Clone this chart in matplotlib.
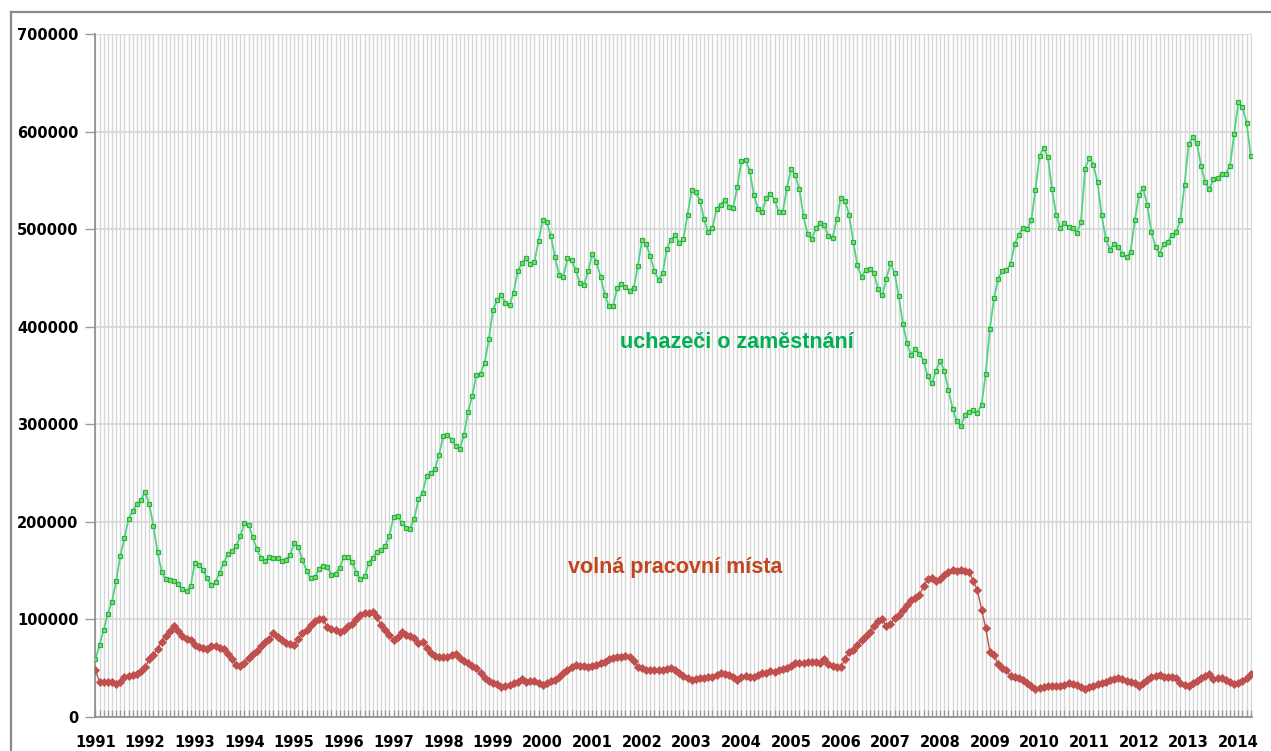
import numpy as np
import matplotlib.pyplot as plt
from matplotlib.lines import Line2D

W, H = 1271, 751

# --- Data: monthly values, Jan 1991 .. Apr 2014 ---
years = list(range(1991, 2015))

uchazeci = [
    59000, 74000, 89000, 106000, 118000, 139000, 165000, 183000, 203000, 211000, 218000, 222000,
    231000, 218000, 196000, 169000, 149000, 141000, 140000, 139000, 136000, 131000, 129000, 134000,
    158000, 156000, 151000, 142000, 135000, 138000, 148000, 158000, 167000, 170000, 175000, 185000,
    199000, 197000, 184000, 172000, 163000, 160000, 164000, 163000, 163000, 160000, 161000, 166000,
    178000, 174000, 161000, 150000, 142000, 143000, 152000, 155000, 154000, 146000, 147000, 153000,
    164000, 164000, 159000, 148000, 141000, 144000, 158000, 163000, 169000, 171000, 175000, 186000,
    205000, 206000, 199000, 194000, 193000, 203000, 223000, 230000, 247000, 250000, 254000, 269000,
    288000, 289000, 284000, 278000, 275000, 289000, 313000, 329000, 351000, 352000, 363000, 387000,
    417000, 427000, 433000, 424000, 422000, 435000, 457000, 465000, 470000, 464000, 466000, 488000,
    509000, 507000, 493000, 471000, 453000, 451000, 470000, 468000, 458000, 445000, 443000, 457000,
    475000, 466000, 451000, 433000, 421000, 421000, 440000, 444000, 441000, 437000, 440000, 462000,
    489000, 485000, 472000, 457000, 448000, 455000, 480000, 489000, 494000, 486000, 490000, 515000,
    540000, 538000, 529000, 510000, 497000, 501000, 521000, 525000, 530000, 523000, 522000, 543000,
    570000, 571000, 560000, 535000, 521000, 518000, 532000, 536000, 530000, 518000, 518000, 542000,
    562000, 555000, 541000, 513000, 495000, 490000, 501000, 506000, 504000, 493000, 491000, 510000,
    532000, 529000, 515000, 487000, 463000, 451000, 458000, 459000, 455000, 439000, 432000, 449000,
    465000, 455000, 431000, 403000, 383000, 371000, 377000, 372000, 365000, 349000, 342000, 355000,
    365000, 355000, 335000, 316000, 303000, 298000, 310000, 313000, 315000, 312000, 320000, 352000,
    398000, 429000, 449000, 457000, 458000, 464000, 485000, 494000, 501000, 500000, 509000, 540000,
    575000, 583000, 574000, 541000, 515000, 501000, 506000, 502000, 501000, 496000, 507000, 562000,
    573000, 566000, 548000, 514000, 490000, 479000, 485000, 482000, 475000, 471000, 477000, 509000,
    535000, 542000, 525000, 497000, 482000, 475000, 485000, 487000, 494000, 497000, 509000, 545000,
    587000, 594000, 588000, 565000, 548000, 541000, 551000, 552000, 557000, 557000, 565000, 598000,
    630000, 625000, 609000, 575000,
]

volna_mista = [
    48000, 36000, 36000, 36000, 36000, 34000, 36000, 41000, 42000, 43000, 44000, 47000,
    51000, 59000, 64000, 70000, 77000, 83000, 88000, 93000, 88000, 83000, 80000, 79000,
    74000, 72000, 71000, 70000, 73000, 73000, 71000, 70000, 65000, 59000, 53000, 52000,
    55000, 60000, 65000, 68000, 73000, 77000, 80000, 86000, 82000, 79000, 76000, 75000,
    74000, 80000, 86000, 89000, 94000, 98000, 100000, 100000, 92000, 90000, 89000, 87000,
    89000, 93000, 95000, 100000, 105000, 107000, 107000, 108000, 102000, 94000, 89000, 84000,
    79000, 82000, 87000, 84000, 83000, 81000, 76000, 77000, 71000, 66000, 63000, 61000,
    61000, 62000, 64000, 65000, 60000, 57000, 55000, 52000, 50000, 45000, 40000, 37000,
    35000, 34000, 31000, 32000, 33000, 35000, 36000, 39000, 36000, 37000, 37000, 35000,
    33000, 35000, 37000, 38000, 41000, 45000, 48000, 51000, 53000, 52000, 52000, 51000,
    52000, 53000, 55000, 56000, 59000, 60000, 61000, 62000, 63000, 61000, 57000, 51000,
    50000, 48000, 48000, 48000, 48000, 48000, 49000, 50000, 48000, 45000, 42000, 40000,
    38000, 39000, 40000, 40000, 41000, 41000, 43000, 45000, 44000, 43000, 41000, 38000,
    41000, 42000, 41000, 41000, 43000, 45000, 45000, 47000, 46000, 48000, 49000, 50000,
    52000, 55000, 55000, 55000, 56000, 56000, 56000, 55000, 59000, 54000, 52000, 51000,
    51000, 59000, 67000, 69000, 74000, 79000, 83000, 87000, 93000, 98000, 100000, 93000,
    95000, 101000, 105000, 110000, 115000, 120000, 122000, 125000, 134000, 141000, 142000, 139000,
    141000, 146000, 149000, 151000, 150000, 151000, 150000, 149000, 139000, 130000, 110000, 91000,
    67000, 64000, 54000, 50000, 48000, 42000, 41000, 40000, 38000, 35000, 32000, 29000,
    30000, 31000, 32000, 32000, 32000, 32000, 33000, 35000, 34000, 33000, 31000, 29000,
    31000, 32000, 34000, 35000, 36000, 38000, 39000, 40000, 39000, 37000, 36000, 35000,
    32000, 35000, 38000, 41000, 42000, 43000, 41000, 41000, 41000, 40000, 35000, 33000,
    32000, 35000, 37000, 40000, 42000, 44000, 39000, 40000, 40000, 38000, 36000, 34000,
    35000, 37000, 40000, 44000,
]

label_uchazeci = "uchazeči o zaměstnání"
label_volna = "volná pracovní místa"

n = len(uchazeci)
x = np.arange(n)

fig = plt.figure(figsize=(W / 100, H / 100), dpi=100)
ax = fig.add_axes([95 / W, 34 / H, (1252 - 95) / W, (717 - 34) / H])

# --- Series ---
ax.plot(x, uchazeci, color="#4fd480", lw=1.3, marker="s", ms=3.4,
        mfc="#9bd84e", mec="#1cb553", mew=0.9, zorder=4)
ax.plot(x, volna_mista, color="#c0504d", lw=1.0, marker="D", ms=4.2,
        mfc="#c0504d", mec="#c0504d", mew=0.6, zorder=4)

ax.text(155, 384000, label_uchazeci, color="#00b050", fontsize=15.5,
        fontweight="bold", family="Liberation Sans", ha="center", va="center")
ax.text(140, 153000, label_volna, color="#c2451e", fontsize=15.5,
        fontweight="bold", family="Liberation Sans", ha="center", va="center")

# --- Axes ---
ax.set_xlim(-0.1, n - 0.7)
ax.set_ylim(0, 700000)
ax.set_yticks(np.arange(0, 700001, 100000))
ax.set_yticklabels([str(v) for v in range(0, 700001, 100000)],
                   fontsize=10.5, fontweight="bold")

ax.set_xticks(x)
ax.set_xticklabels([str(years[i // 12]) if i % 12 == 0 else "" for i in x],
                   fontsize=10.5, fontweight="bold")

ax.tick_params(axis="x", direction="in", length=5, width=1, color="#9a9a9a", pad=13)
ax.tick_params(axis="y", direction="out", length=7, width=1, color="#9a9a9a", pad=5)

ax.grid(True, axis="x", color="#d6d6d6", lw=1.0, zorder=0)
ax.grid(True, axis="y", color="#d9d9d9", lw=1.3, zorder=0)
ax.set_axisbelow(True)

for s in ["top", "right"]:
    ax.spines[s].set_visible(False)
for s in ["left", "bottom"]:
    ax.spines[s].set_color("#8c8c8c")
    ax.spines[s].set_linewidth(1.2)

# chart area frame (only left and top visible in the crop)
fig.add_artist(Line2D([11 / W, 11 / W], [0, 1 - 12 / H], color="#8a8a8a", lw=1.6))
fig.add_artist(Line2D([11 / W, 1], [1 - 12 / H, 1 - 12 / H], color="#8a8a8a", lw=1.6))

fig.savefig("out.png", dpi=100)
